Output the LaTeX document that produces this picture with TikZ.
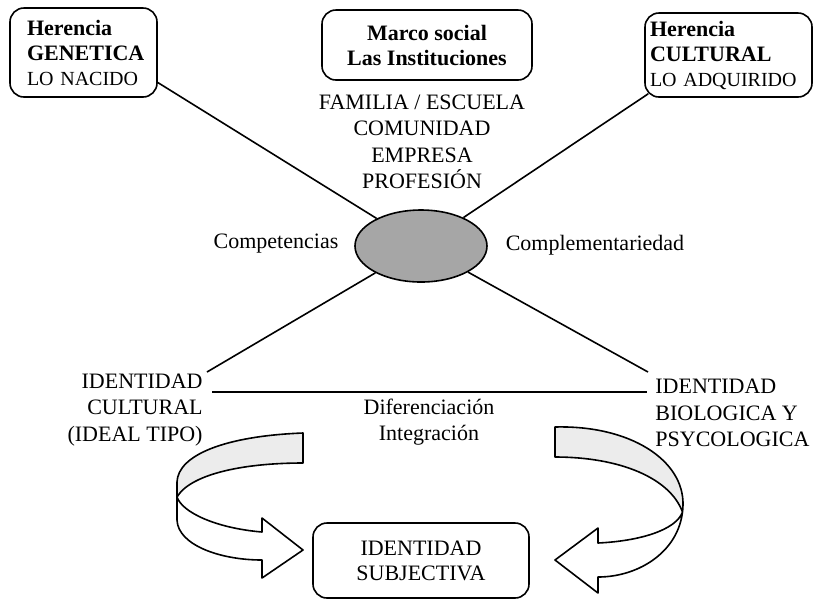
\documentclass[tikz,border=0pt]{standalone}
\usepackage{fontspec}
\setmainfont{Liberation Serif}
\usetikzlibrary{shapes.geometric,calc}
\tikzset{
  caja/.style = {rectangle, draw, line width=0.8pt, rounded corners=7pt,
    font=\fontsize{10}{12.5}\selectfont},
  texto/.style = {font=\fontsize{11}{13.2}\selectfont, inner sep=0pt},
  linea/.style = {line width=0.8pt},
  cinta/.style = {line width=0.8pt, line join=round},
  sombra/.style = {fill=gray!15}
}
\newcommand{\negrita}[1]{{\fontsize{11}{12.5}\selectfont\bfseries #1}}

\begin{document}
\begin{tikzpicture}[x=0.5pt, y=-0.5pt]
\useasboundingbox (0,0) rectangle (814,602);

\node[caja, minimum width=73.5pt, minimum height=44.5pt, text width=56.5pt, inner xsep=8.5pt, align=left]
  (genetica) at (83.5,52.5) {\negrita{Herencia}\\ \negrita{GENETICA}\\ LO NACIDO};
\node[caja, minimum width=105pt, minimum height=35pt, align=center]
  (marco) at (427,45) {\negrita{Marco social}\\ \negrita{Las Instituciones}};
\node[caja, minimum width=83.5pt, minimum height=42pt, text width=78.5pt, inner xsep=2.5pt, align=left]
  (cultural) at (728.5,55) {\negrita{Herencia}\\ \negrita{CULTURAL}\\ LO ADQUIRIDO};

\node[texto, align=center] (lista) at (422,142) {FAMILIA / ESCUELA\\ COMUNIDAD\\ EMPRESA\\ PROFESIÓN};

\node[ellipse, draw, linea, fill=black!35, minimum width=66pt, minimum height=36pt, inner sep=0pt]
  (nucleo) at (421,246) {};
\node[texto] (compet) at (276,244) {Competencias};
\node[texto] (compl) at (595,245) {Complementariedad};

\node[texto, align=right, anchor=east] (idcult) at (203,410) {IDENTIDAD\\ CULTURAL\\ (IDEAL TIPO)};
\node[texto, align=left, anchor=west] (idbio) at (655,413) {IDENTIDAD\\ BIOLOGICA Y\\ PSYCOLOGICA};
\node[texto, align=center] (difer) at (429,422) {Diferenciación\\ Integración};
\node[caja, font=\fontsize{11}{12.5}\selectfont, minimum width=108pt, minimum height=37.5pt, align=center]
  (subj) at (421,560.5) {IDENTIDAD\\ SUBJECTIVA};

% conectores
\coordinate (pizq) at (207,372);
\coordinate (pder) at (648,372);
\coordinate (hizq) at (212,392);
\coordinate (hder) at (647,392);
\draw[linea] (genetica.-22) -- (nucleo);
\draw[linea] ($(cultural.south west)+(4,-4)$) -- (nucleo);
\draw[linea] (nucleo) -- (pizq);
\draw[linea] (nucleo) -- (pder);
\draw[linea] (hizq) -- (hder);

% flechas curvas
\fill[sombra] (303,433) .. controls (225,436) and (178,455) .. (177,482) -- (177,497)
  .. controls (190,475) and (240,463) .. (303,463) -- cycle;
\draw[cinta] (303,433) .. controls (225,436) and (178,455) .. (177,482) -- (177,520)
  .. controls (178,545) and (220,560) .. (262,560) -- (262,578) -- (303,550) -- (262,518) -- (262,532)
  .. controls (215,528) and (182,512) .. (177,497) .. controls (190,475) and (240,463) .. (303,463) -- cycle;

\fill[sombra] (555,427) .. controls (630,425) and (684,460) .. (683,505) -- (682.5,512)
  .. controls (670,478) and (620,457) .. (555,457) -- cycle;
\draw[cinta] (555,427) .. controls (630,425) and (684,460) .. (683,505)
  .. controls (682,550) and (640,577) .. (598,577) -- (598,593) -- (555,560) -- (598,528) -- (598,543)
  .. controls (640,541) and (676,530) .. (682.5,512) .. controls (670,478) and (620,457) .. (555,457) -- cycle;

\end{tikzpicture}
\end{document}
